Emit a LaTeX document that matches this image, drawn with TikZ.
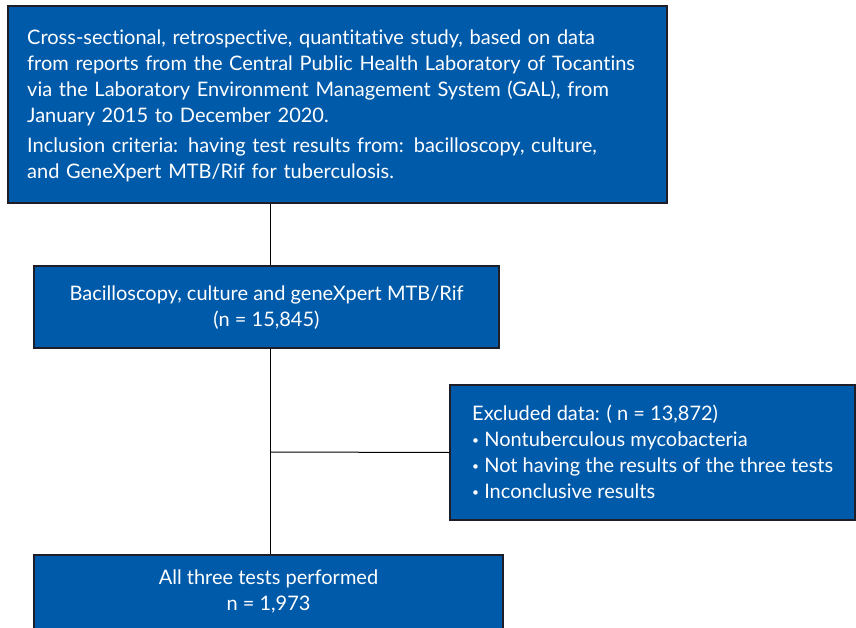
\documentclass[tikz,border=0pt]{standalone}
\usepackage{fontspec}
\setmainfont[Ligatures=NoCommon]{Lato}
\definecolor{boxblue}{RGB}{0,90,170}
\definecolor{boxedge}{RGB}{30,30,40}
\newcommand{\mybul}{\raisebox{0.25ex}{\scalebox{0.6}{\textbullet}}\ }
\begin{document}
\begin{tikzpicture}[x=1pt,y=-1pt,
  bluebox/.style={draw=boxedge,line width=1.2pt,fill=boxblue,rectangle,inner sep=0pt},
  boxtext/.style={text=white,inner sep=0pt,font=\fontsize{20}{26}\selectfont},
  link/.style={draw=black,line width=1pt}]
\useasboundingbox (0,0) rectangle (856,628);
\node[bluebox,minimum width=659pt,minimum height=197pt] (b1) at (337.5,104.5) {};
\node[bluebox,minimum width=465pt,minimum height=82pt] (b2) at (266.5,307) {};
\node[bluebox,minimum width=405pt,minimum height=135pt] (b3) at (652.5,452.5) {};
\node[bluebox,minimum width=469pt,minimum height=82pt] (b4) at (268.5,596) {};
\node[boxtext,anchor=north west,align=left,text width=640pt] (t1) at (27,30)
 {Cross-sectional, retrospective, quantitative study, based on data\\
  from reports from the Central Public Health Laboratory of Tocantins\\
  via the Laboratory Environment Management System (GAL), from\\
  January 2015 to December 2020.\\[4pt]
  Inclusion criteria: having test results from: bacilloscopy, culture,\\
  and GeneXpert MTB/Rif for tuberculosis.};
\node[boxtext,align=center] (t2) at (266.5,308)
 {Bacilloscopy, culture and geneXpert MTB/Rif\\(n = 15,845)};
\node[boxtext,anchor=north west,align=left] (t3) at (472,405)
 {Excluded data: ( n = 13,872)\\
  \mybul Nontuberculous mycobacteria\\
  \mybul Not having the results of the three tests\\
  \mybul Inconclusive results};
\node[boxtext,align=center] (t4) at (268.5,591)
 {All three tests performed\\n = 1,973};
\coordinate (j) at (270,452);
\draw[link] (j |- b1.south) -- (j |- b2.north);
\draw[link] (j |- b2.south) -- (j |- b4.north);
\draw[link] (j) -- (b3.west);
\end{tikzpicture}
\end{document}
